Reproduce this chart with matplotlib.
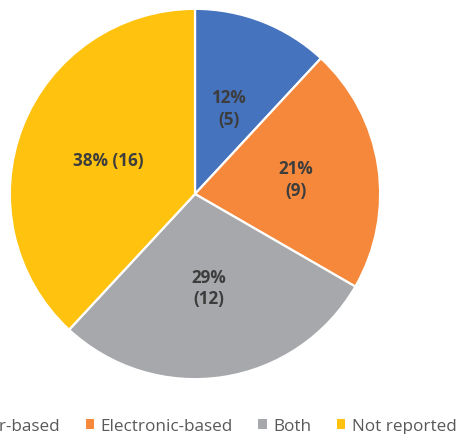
import numpy as np
import matplotlib.pyplot as plt

# ---- data ----
categories = ["Paper-based", "Electronic-based", "Both", "Not reported"]
counts = [5, 9, 12, 16]
percents = [12, 21, 29, 38]
colors = ["#4573BE", "#F5883A", "#A6A8AB", "#FFC20E"]
label_texts = ["12%\n(5)", "21%\n(9)", "29%\n(12)", "38% (16)"]
label_dist = [0.50, 0.55, 0.51, 0.505]

plt.rcParams["font.family"] = ["Open Sans", "DejaVu Sans"]

W, H = 457, 435
fig = plt.figure(figsize=(W / 100, H / 100), dpi=100)

cx, cy, r = 195, 195, 187
ax = fig.add_axes([(cx - r) / W, (H - cy - r) / H, 2 * r / W, 2 * r / H])

wedges, _ = ax.pie(counts, colors=colors, startangle=90, counterclock=False,
                   radius=1.0,
                   wedgeprops=dict(edgecolor="white", linewidth=1.6))
ax.set_xlim(-1.01, 1.01)
ax.set_ylim(-1.01, 1.01)
ax.set_aspect("equal")
ax.axis("off")

# labels at wedge mid angles
for w, txt, d in zip(wedges, label_texts, label_dist):
    mid = np.deg2rad((w.theta1 + w.theta2) / 2)
    ax.text(d * np.cos(mid), d * np.sin(mid), txt, ha="center", va="center",
            fontsize=12.3, fontweight="bold", color="#3D3D3D", linespacing=1.25)

leg = fig.legend(wedges, categories, loc="center right",
                 bbox_to_anchor=(1.0, 8 / H), ncol=4, frameon=False,
                 handlelength=0.48, handleheight=0.48, handletextpad=0.4,
                 columnspacing=1.5, borderpad=0, borderaxespad=0,
                 fontsize=12.3, labelcolor="#595959")
for h in leg.legend_handles:
    h.set_edgecolor("none")

fig.savefig("out.png", dpi=100)
